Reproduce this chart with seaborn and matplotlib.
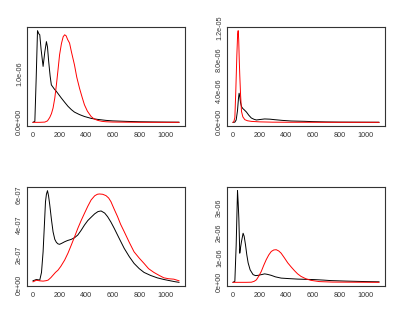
import matplotlib
matplotlib.use("Agg")
import matplotlib.pyplot as plt
import seaborn as sns
import pandas as pd
import numpy as np

# ---------------- data ----------------
p1_black_x = [0, 15, 25, 35, 45, 52, 62, 77, 90, 102, 110, 119, 130, 139, 160, 177, 195, 214, 240, 264, 290, 313, 350, 388, 440, 488, 550, 600, 700, 800, 900, 1000, 1100]
p1_black_y = [0, 0.02, 0.9, 1.885, 1.82, 1.80, 1.5, 1.15, 1.45, 1.66, 1.55, 1.25, 0.95, 0.77, 0.69, 0.635, 0.57, 0.50, 0.41, 0.33, 0.26, 0.21, 0.16, 0.12, 0.08, 0.06, 0.04, 0.03, 0.02, 0.012, 0.008, 0.005, 0.003]
p1_red_x = [0, 50, 90, 110, 127, 140, 152, 165, 177, 190, 201, 215, 228, 239, 250, 262, 276, 290, 313, 330, 351, 370, 388, 410, 438, 460, 488, 520, 550, 600, 700, 800, 1100]
p1_red_y = [0, 0, 0.005, 0.03, 0.1, 0.18, 0.295, 0.5, 0.77, 1.1, 1.39, 1.62, 1.76, 1.80, 1.78, 1.70, 1.63, 1.45, 1.18, 0.93, 0.70, 0.52, 0.36, 0.23, 0.12, 0.07, 0.04, 0.02, 0.012, 0.006, 0.003, 0.001, 0]
p1_scale = 1e-6

p2_black_x = [0, 15, 25, 35, 42, 47, 52, 58, 65, 75, 85, 102, 120, 139, 160, 177, 200, 239, 280, 313, 370, 438, 537, 600, 700, 800, 1100]
p2_black_y = [0, 0.02, 0.3, 1.5, 3.0, 3.7, 3.3, 2.5, 2.0, 1.75, 1.6, 1.31, 0.9, 0.55, 0.38, 0.30, 0.35, 0.43, 0.40, 0.34, 0.25, 0.17, 0.13, 0.09, 0.05, 0.03, 0.01]
p2_red_x = [0, 7, 15, 22, 30, 36, 40, 44, 48, 52, 58, 65, 75, 90, 110, 140, 200, 300, 400, 1100]
p2_red_y = [0, 0.05, 0.6, 3.9, 8.5, 11.2, 11.65, 10.5, 8.0, 6.0, 3.5, 1.39, 0.7, 0.34, 0.2, 0.12, 0.06, 0.02, 0.01, 0.0]
p2_scale = 1e-6

p3_black_x = [0, 27, 52, 65, 77, 87, 95, 102, 110, 118, 127, 140, 152, 165, 177, 189, 201, 220, 239, 260, 289, 315, 338, 363, 388, 413, 438, 465, 490, 513, 540, 562, 587, 612, 650, 687, 725, 761, 800, 836, 885, 935, 985, 1035, 1070, 1100]
p3_black_y = [0.24, 0.33, 0.29, 0.8, 2.17, 4.0, 5.5, 6.0, 6.24, 5.9, 5.3, 4.3, 3.5, 3.0, 2.8, 2.7, 2.67, 2.75, 2.84, 2.92, 3.0, 3.12, 3.29, 3.6, 3.95, 4.25, 4.47, 4.7, 4.85, 4.89, 4.75, 4.51, 4.15, 3.73, 3.05, 2.4, 1.85, 1.4, 1.05, 0.8, 0.6, 0.44, 0.33, 0.24, 0.18, 0.14]
p3_red_x = [0, 27, 52, 77, 100, 115, 135, 152, 170, 189, 210, 239, 265, 289, 315, 338, 363, 388, 413, 438, 465, 485, 500, 525, 550, 570, 587, 612, 637, 660, 687, 725, 761, 800, 836, 870, 910, 950, 985, 1020, 1060, 1100]
p3_red_y = [0.17, 0.28, 0.24, 0.22, 0.25, 0.29, 0.45, 0.62, 0.8, 0.95, 1.2, 1.62, 2.1, 2.62, 3.2, 3.73, 4.25, 4.73, 5.2, 5.62, 5.9, 6.0, 6.02, 6.0, 5.91, 5.75, 5.51, 5.0, 4.51, 4.0, 3.51, 2.8, 2.17, 1.75, 1.4, 1.05, 0.8, 0.6, 0.44, 0.38, 0.35, 0.24]
p3_scale = 1e-7

p4_black_x = [0, 15, 25, 35, 40, 45, 52, 58, 65, 77, 85, 95, 105, 115, 130, 152, 170, 189, 215, 239, 260, 289, 320, 363, 420, 487, 550, 612, 680, 736, 850, 1000, 1100]
p4_black_y = [0, 0.04, 1.5, 3.68, 3.2, 2.57, 1.17, 1.4, 1.64, 1.97, 1.85, 1.51, 1.1, 0.78, 0.5, 0.31, 0.27, 0.28, 0.31, 0.34, 0.32, 0.28, 0.22, 0.17, 0.15, 0.13, 0.12, 0.11, 0.09, 0.07, 0.05, 0.03, 0.02]
p4_red_x = [0, 100, 139, 160, 177, 195, 214, 232, 251, 270, 289, 308, 326, 345, 363, 388, 413, 438, 463, 487, 512, 550, 587, 650, 750, 1100]
p4_red_y = [0, 0, 0.005, 0.04, 0.1, 0.25, 0.44, 0.68, 0.91, 1.1, 1.24, 1.30, 1.31, 1.26, 1.17, 0.98, 0.78, 0.62, 0.47, 0.34, 0.24, 0.14, 0.08, 0.03, 0.01, 0.0]
p4_scale = 1e-6

x_ticks = [0, 200, 400, 600, 800, 1000]
p1_yticks = [0, 5e-7, 1e-6, 1.5e-6]
p1_ylabels = ["0.0e+00", "", "1.0e-06", ""]
p2_yticks = [0, 2e-6, 4e-6, 6e-6, 8e-6, 1e-5, 1.2e-5]
p2_ylabels = ["0.0e+00", "", "4.0e-06", "", "8.0e-06", "", "1.2e-05"]
p3_yticks = [0, 1e-7, 2e-7, 3e-7, 4e-7, 5e-7, 6e-7]
p3_ylabels = ["0e+00", "", "2e-07", "", "4e-07", "", "6e-07"]
p4_yticks = [0, 1e-6, 2e-6, 3e-6]
p4_ylabels = ["0e+00", "1e-06", "2e-06", "3e-06"]

# ---------------- drawing ----------------
sns.set_style("white")
plt.rcParams["font.family"] = ["Liberation Sans", "DejaVu Sans"]

fig = plt.figure(figsize=(4.0, 3.2), dpi=100)
W, H = 400.0, 320.0
boxes = [(27, 27), (227, 27), (27, 187), (227, 187)]
bw, bh = 158, 99

panels = [
    (p1_black_x, p1_black_y, p1_red_x, p1_red_y, p1_scale, p1_yticks, p1_ylabels),
    (p2_black_x, p2_black_y, p2_red_x, p2_red_y, p2_scale, p2_yticks, p2_ylabels),
    (p3_black_x, p3_black_y, p3_red_x, p3_red_y, p3_scale, p3_yticks, p3_ylabels),
    (p4_black_x, p4_black_y, p4_red_x, p4_red_y, p4_scale, p4_yticks, p4_ylabels),
]

def rlim(vals):
    lo, hi = min(vals), max(vals)
    r = hi - lo
    return lo - 0.04 * r, hi + 0.04 * r

for (bx, by), (kx, ky, rx, ry, sc, yt, yl) in zip(boxes, panels):
    ax = fig.add_axes([bx / W, 1 - (by + bh) / H, bw / W, bh / H])
    dk = pd.DataFrame({"x": kx, "y": np.array(ky) * sc})
    dr = pd.DataFrame({"x": rx, "y": np.array(ry) * sc})
    sns.lineplot(data=dk, x="x", y="y", ax=ax, color="black", lw=0.7, sort=False)
    sns.lineplot(data=dr, x="x", y="y", ax=ax, color="red", lw=0.7, sort=False)
    ax.set_xlim(*rlim(kx + rx))
    ax.set_ylim(*rlim(list(dk["y"]) + list(dr["y"])))
    ax.set_xticks(x_ticks)
    ax.set_xticklabels([str(t) for t in x_ticks])
    ax.set_yticks(yt)
    ax.set_yticklabels(yl, rotation=90, va="center")
    ax.set_xlabel("")
    ax.set_ylabel("")
    for s in ax.spines.values():
        s.set_visible(True)
        s.set_color("#333333")
        s.set_linewidth(0.8)
    ax.tick_params(axis="both", which="both", direction="out", length=2.2,
                   width=0.6, color="#333333", labelsize=5.2,
                   labelcolor="#333333")
    ax.tick_params(axis="x", pad=2.2)
    ax.tick_params(axis="y", pad=0.6)

fig.savefig("out.png", dpi=100)
